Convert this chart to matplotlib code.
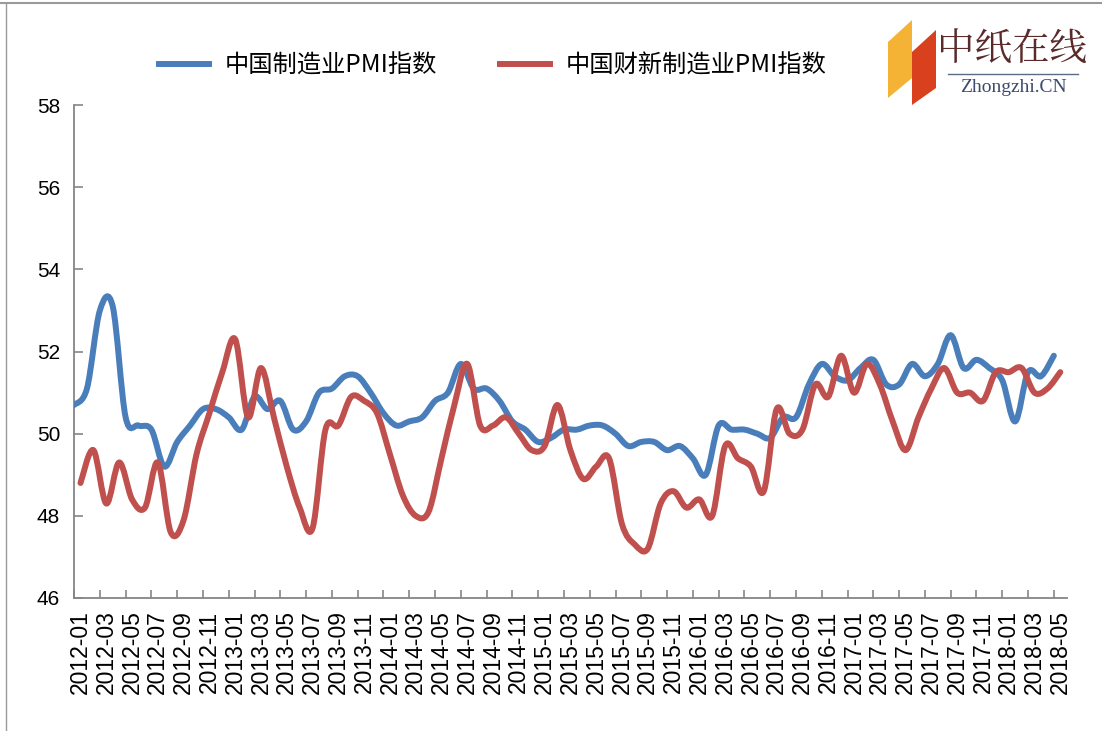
import numpy as np
import matplotlib
matplotlib.use("Agg")
import matplotlib.pyplot as plt
from matplotlib.path import Path
from matplotlib.patches import PathPatch, Polygon
from matplotlib.lines import Line2D

# ---------------- data ----------------
months = [f"{y}-{m:02d}" for y in range(2012, 2019) for m in range(1, 13)][:77]

nbs_pmi = [50.7, 51.1, 53.0, 53.1, 50.4, 50.2, 50.1, 49.2, 49.8, 50.2, 50.6, 50.6,
           50.4, 50.1, 50.9, 50.6, 50.8, 50.1, 50.3, 51.0, 51.1, 51.4, 51.4, 51.0,
           50.5, 50.2, 50.3, 50.4, 50.8, 51.0, 51.7, 51.1, 51.1, 50.8, 50.3, 50.1,
           49.8, 49.9, 50.1, 50.1, 50.2, 50.2, 50.0, 49.7, 49.8, 49.8, 49.6, 49.7,
           49.4, 49.0, 50.2, 50.1, 50.1, 50.0, 49.9, 50.4, 50.4, 51.2, 51.7, 51.4,
           51.3, 51.6, 51.8, 51.2, 51.2, 51.7, 51.4, 51.7, 52.4, 51.6, 51.8, 51.6,
           51.3, 50.3, 51.5, 51.4, 51.9]

caixin_pmi = [48.8, 49.6, 48.3, 49.3, 48.4, 48.2, 49.3, 47.6, 47.9, 49.5, 50.5, 51.5,
              52.3, 50.4, 51.6, 50.4, 49.2, 48.2, 47.7, 50.1, 50.2, 50.9, 50.8, 50.5,
              49.5, 48.5, 48.0, 48.1, 49.4, 50.7, 51.7, 50.2, 50.2, 50.4, 50.0, 49.6,
              49.7, 50.7, 49.6, 48.9, 49.2, 49.4, 47.8, 47.3, 47.2, 48.3, 48.6, 48.2,
              48.4, 48.0, 49.7, 49.4, 49.2, 48.6, 50.6, 50.0, 50.1, 51.2, 50.9, 51.9,
              51.0, 51.7, 51.2, 50.3, 49.6, 50.4, 51.1, 51.6, 51.0, 51.0, 50.8, 51.5,
              51.5, 51.6, 51.0, 51.1, 51.5]

series_names = ["中国制造业PMI指数", "中国财新制造业PMI指数"]
yticks = [46, 48, 50, 52, 54, 56, 58]

# ---------------- style ----------------
BLUE = "#4A7EBB"
RED = "#C0504D"
GRAY = "#868686"
CJK = ["Noto Sans CJK SC", "DejaVu Sans"]


def smooth_path(x, y):
    """Excel-like smoothed line as cubic Bezier path through the data points."""
    n = len(x)
    verts = [(x[0], y[0])]
    codes = [Path.MOVETO]
    for k in range(n - 1):
        p0 = (x[k - 1], y[k - 1]) if k > 0 else (x[k], y[k])
        p1 = (x[k], y[k])
        p2 = (x[k + 1], y[k + 1])
        p3 = (x[k + 2], y[k + 2]) if k + 2 < n else p2
        c1 = (p1[0] + (p2[0] - p0[0]) / 6.0, p1[1] + (p2[1] - p0[1]) / 6.0)
        c2 = (p2[0] - (p3[0] - p1[0]) / 6.0, p2[1] - (p3[1] - p1[1]) / 6.0)
        verts += [c1, c2, p2]
        codes += [Path.CURVE4] * 3
    return Path(verts, codes)


fig = plt.figure(figsize=(11.02, 7.31), dpi=100)
ax = fig.add_axes([0.0672, 0.182, 0.9008, 0.674])

idx = np.arange(len(months))
# blue series sits on category boundaries, red series on category centres (as in reference)
blue_x = idx - 0.5
red_x = idx

for xs, ys, col in [(blue_x, nbs_pmi, BLUE), (red_x, caixin_pmi, RED)]:
    patch = PathPatch(smooth_path(list(xs), list(ys)), fill=False, edgecolor=col,
                      lw=4.3, capstyle="round", joinstyle="round", zorder=3)
    ax.add_patch(patch)

ax.set_xlim(-0.5, len(months) - 0.5)
ax.set_ylim(46, 58)

for s in ["top", "right"]:
    ax.spines[s].set_visible(False)
for s in ["left", "bottom"]:
    ax.spines[s].set_color(GRAY)
    ax.spines[s].set_linewidth(1.3)

ax.set_yticks(yticks)
ax.set_yticklabels([str(v) for v in yticks], fontsize=15, family="Liberation Sans")
ax.tick_params(axis="y", direction="in", length=6.5, width=1.2, color=GRAY, pad=10)

ax.set_xticks(idx[::2])
ax.set_xticklabels(months[::2], rotation=90, fontsize=16.5, family="Liberation Sans")
ax.tick_params(axis="x", which="major", length=0, pad=9)
ax.set_xticks(np.arange(-0.5, len(months) - 1, 2), minor=True)
ax.tick_params(axis="x", which="minor", direction="in", length=6, width=1.2, color=GRAY)

handles = [Line2D([], [], color=BLUE, lw=4.3), Line2D([], [], color=RED, lw=4.3)]
fig.legend(handles, series_names, loc="center", bbox_to_anchor=(0.447, 0.91), ncol=2,
           frameon=False, prop={"family": CJK, "size": 17.5}, handlelength=2.05,
           handletextpad=0.65, columnspacing=2.6)

# ---------------- logo ----------------
W, H = 1102, 731


def fp(px, py):
    return (px / W, 1 - py / H)


fig.patches.append(Polygon([fp(888, 42), fp(912, 20), fp(912, 78), fp(888, 98)],
                           closed=True, transform=fig.transFigure, facecolor="#F5B335",
                           edgecolor="none"))
fig.patches.append(Polygon([fp(912, 52), fp(936, 30), fp(936, 88), fp(912, 105)],
                           closed=True, transform=fig.transFigure, facecolor="#D8401E",
                           edgecolor="none"))
fig.text(1012 / W, 1 - 50 / H, "中纸在线", ha="center", va="center", fontsize=27,
         color="#5B2A2A", family=["Noto Serif CJK SC", "Noto Sans CJK SC"])
fig.add_artist(Line2D([948 / W, 1078 / W], [1 - 74 / H, 1 - 74 / H], color="#5B6A86",
                      lw=1.0, transform=fig.transFigure))
fig.text(1013 / W, 1 - 88 / H, "Zhongzhi.CN", ha="center", va="center", fontsize=14,
         color="#3D4A6B", family="Liberation Serif")

# frame lines of the screenshot
fig.add_artist(Line2D([0, 1], [1 - 3 / H, 1 - 3 / H], color="#9A9A9A", lw=1.5,
                      transform=fig.transFigure))
fig.add_artist(Line2D([6 / W, 6 / W], [0, 1 - 3 / H], color="#9A9A9A", lw=1.0,
                      transform=fig.transFigure))

fig.savefig("out.png", dpi=100)
